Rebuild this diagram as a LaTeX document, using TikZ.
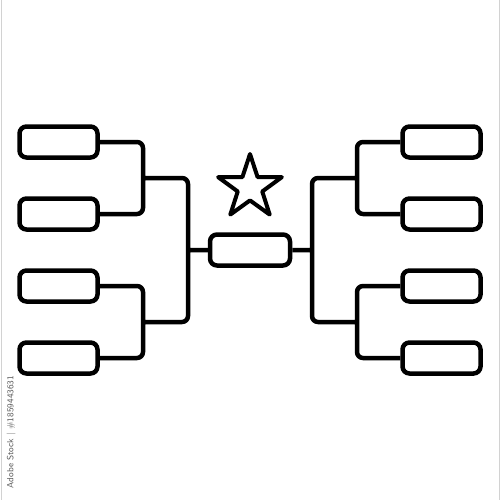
\documentclass[tikz,border=0pt]{standalone}
\usepackage{tikz}
\usetikzlibrary{positioning, shapes.geometric}
\tikzset {
    node distance=72pt,
    slot/.style={draw, line width=4.5pt, rounded corners=7pt,
        minimum width=78pt, minimum height=31pt, inner sep=0pt},
    link/.style={line width=4.5pt, rounded corners=6pt},
    trophy/.style={draw, star, star points=5, star point ratio=2.6,
        minimum size=67pt, inner sep=0pt, line width=4pt, line join=round},
    edge line/.style={draw=gray!35, line width=0.8pt}
}

\begin{document}
\begin{tikzpicture}[x=1pt, y=-1pt]
    \useasboundingbox (0,0) rectangle (500,500);
    \draw[edge line] (1,0) -- (1,500) (499,0) -- (499,500);

    % left half
    \node[slot] (l1) at (58.5,142) {};
    \node[slot, below of=l1] (l2) {};
    \node[slot, below of=l2] (l3) {};
    \node[slot, below of=l3] (l4) {};

    % right half
    \node[slot] (r1) at (441.5,142) {};
    \node[slot, below of=r1] (r2) {};
    \node[slot, below of=r2] (r3) {};
    \node[slot, below of=r3] (r4) {};

    % final
    \node[slot, minimum width=80pt] (fin) at (250,250) {};
    \node[trophy] (star) at (250,187.5) {};

    \coordinate (la1) at (143,178);
    \coordinate (la2) at (143,322);
    \coordinate (lb) at (188,250);
    \coordinate (ra1) at (357,178);
    \coordinate (ra2) at (357,322);
    \coordinate (rb) at (312,250);

    \draw[link]
    (l1.east) -| (la1) |- (l2.east)
    (l3.east) -| (la2) |- (l4.east)
    (la1) -| (lb) |- (la2)
    (lb) -- (fin.west);
    \draw[link]
    (r1.west) -| (ra1) |- (r2.west)
    (r3.west) -| (ra2) |- (r4.west)
    (ra1) -| (rb) |- (ra2)
    (rb) -- (fin.east);

    \node[rotate=90, font=\sffamily\fontsize{9}{10}\selectfont, text=gray!70!black]
        (stock) at (11,432) {Adobe Stock | \#1859443631};
\end{tikzpicture}
\end{document}
